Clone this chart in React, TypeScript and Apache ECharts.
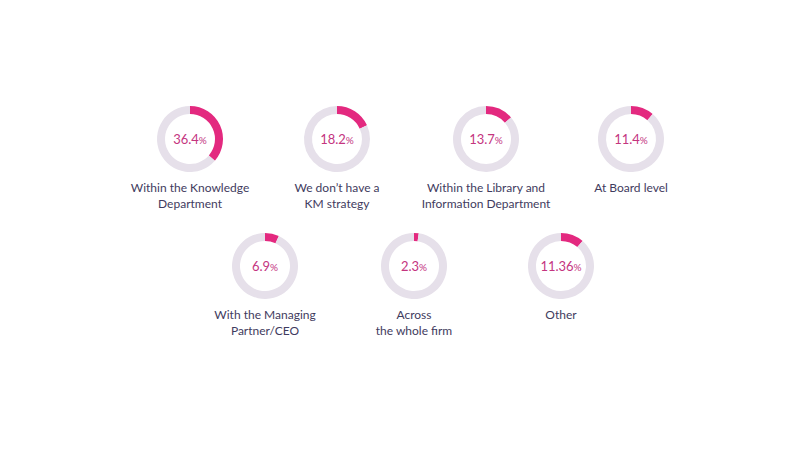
import React, { useEffect, useRef } from "react";
import * as echarts from "echarts";

const categories = [
  "Within the Knowledge\nDepartment",
  "We don\u2019t have a\nKM strategy",
  "Within the Library and\nInformation Department",
  "At Board level",
  "With the Managing\nPartner/CEO",
  "Across\nthe whole firm",
  "Other",
];
const percentLabels = ["36.4", "18.2", "13.7", "11.4", "6.9", "2.3", "11.36"];
const values = [36.4, 18.2, 13.7, 11.4, 6.9, 2.3, 11.36];

const centersX = [190, 337, 486, 631, 265, 414, 561];
const centersY = [139, 139, 139, 139, 266, 266, 266];

const PINK = "#e3297f";
const TRACK = "#e6e0ea";
const TEXT = "#3f3b5e";

export default function App() {
  const ref = useRef<HTMLDivElement>(null);
  useEffect(() => {
    if (!ref.current) return;
    const chart = echarts.init(ref.current, null, { renderer: "svg" });
    const series: any[] = values.map((v, i) => ({
      type: "pie",
      radius: [25, 33],
      center: [centersX[i], centersY[i]],
      startAngle: 90,
      clockwise: true,
      silent: true,
      avoidLabelOverlap: false,
      label: { show: false },
      labelLine: { show: false },
      data: [
        {
          value: v,
          itemStyle: { color: PINK },
          label: {
            show: true,
            position: "center",
            formatter: () => `{n|${percentLabels[i]}}{p|%}`,
            rich: {
              n: { fontFamily: "Lato", fontSize: 13, color: "#c4357f" },
              p: { fontFamily: "Lato", fontSize: 10, color: "#c4357f", padding: [2, 0, 0, 0] },
            },
          },
        },
        { value: 100 - v, itemStyle: { color: TRACK } },
      ],
    }));
    const graphic: any[] = categories.map((c, i) => ({
      type: "text",
      x: centersX[i],
      y: centersY[i] + 40,
      style: {
        text: c,
        fontFamily: "Lato",
        fontSize: 12,
        lineHeight: 16,
        fill: TEXT,
        textAlign: "center",
        textVerticalAlign: "top",
      },
    }));
    chart.setOption({
      animation: false,
      backgroundColor: "#ffffff",
      series,
      graphic,
    });
    return () => chart.dispose();
  }, []);
  return <div ref={ref} style={{ width: 800, height: 450, margin: -8 }} />;
}
